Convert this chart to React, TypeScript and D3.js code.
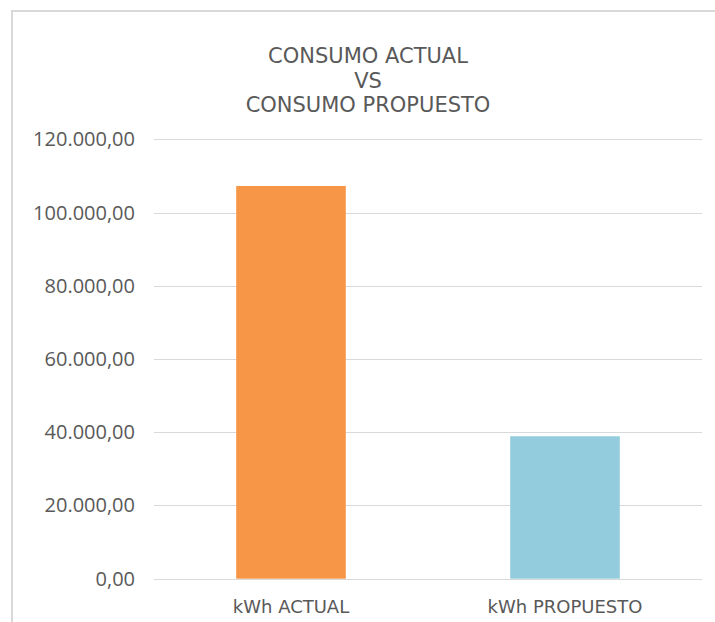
import React, { useEffect, useRef } from 'react';
import * as d3 from 'd3';

const categories = ['kWh ACTUAL', 'kWh PROPUESTO'];
const values = [107250, 38900];
const barColors = ['#F79646', '#93CDDD'];
const yTicks = [0, 20000, 40000, 60000, 80000, 100000, 120000];
const titleLines = ['CONSUMO ACTUAL', 'VS', 'CONSUMO PROPUESTO'];

const esLocale = d3.formatLocale({
  decimal: ',',
  thousands: '.',
  grouping: [3],
  currency: ['', ' €'],
});
const fmt = esLocale.format(',.2f');

const App: React.FC = () => {
  const ref = useRef<SVGSVGElement>(null);

  const width = 715;
  const height = 622;
  const plotLeft = 154;
  const plotRight = 702;
  const plotTop = 139.3;
  const plotBottom = 578.7;

  useEffect(() => {
    const svg = d3.select(ref.current);
    svg.selectAll('*').remove();

    svg.append('rect').attr('width', width).attr('height', height).attr('fill', '#fff');

    // chart area frame (only left and top visible in the crop)
    svg
      .append('path')
      .attr('d', `M12,${height} L12,11 L${width},11`)
      .attr('fill', 'none')
      .attr('stroke', '#d9d9d9')
      .attr('stroke-width', 2);

    const x = d3
      .scaleBand<string>()
      .domain(categories)
      .range([plotLeft, plotRight])
      .paddingInner(0.6)
      .paddingOuter(0.3);

    const y = d3.scaleLinear().domain([0, 120000]).range([plotBottom, plotTop]);

    // gridlines
    svg
      .append('g')
      .selectAll('line')
      .data(yTicks)
      .enter()
      .append('line')
      .attr('x1', plotLeft)
      .attr('x2', plotRight)
      .attr('y1', (d) => Math.round(y(d)) + 0.5)
      .attr('y2', (d) => Math.round(y(d)) + 0.5)
      .attr('stroke', '#d9d9d9')
      .attr('stroke-width', 1);

    // y tick labels
    svg
      .append('g')
      .selectAll('text')
      .data(yTicks)
      .enter()
      .append('text')
      .attr('x', 135)
      .attr('y', (d) => y(d))
      .attr('dy', '0.35em')
      .attr('text-anchor', 'end')
      .style('font-family', '"Open Sans", sans-serif')
      .style('font-size', '20px')
      .style('fill', '#595959')
      .text((d) => fmt(d));

    // bars
    svg
      .append('g')
      .selectAll('rect')
      .data(values)
      .enter()
      .append('rect')
      .attr('x', (d, i) => x(categories[i]) as number)
      .attr('width', x.bandwidth())
      .attr('y', (d) => y(d))
      .attr('height', (d) => y(0) - y(d))
      .attr('fill', (d, i) => barColors[i]);

    // category labels
    svg
      .append('g')
      .selectAll('text')
      .data(categories)
      .enter()
      .append('text')
      .attr('x', (d) => (x(d) as number) + x.bandwidth() / 2)
      .attr('y', 613)
      .attr('text-anchor', 'middle')
      .style('font-family', '"DejaVu Sans", sans-serif')
      .style('font-size', '18px')
      .style('fill', '#595959')
      .text((d) => d);

    // title
    svg
      .append('g')
      .selectAll('text')
      .data(titleLines)
      .enter()
      .append('text')
      .attr('x', 368)
      .attr('y', (d, i) => 63.3 + i * 24.4)
      .attr('text-anchor', 'middle')
      .style('font-family', '"DejaVu Sans", sans-serif')
      .style('font-size', '21px')
      .style('fill', '#595959')
      .text((d) => d);
  });

  return (
    <div style={{ position: 'absolute', left: 0, top: 0 }}>
      <svg ref={ref} width={width} height={height} style={{ display: 'block' }} />
    </div>
  );
};

export default App;
